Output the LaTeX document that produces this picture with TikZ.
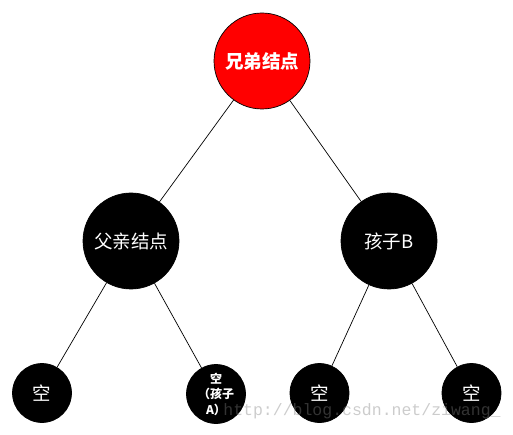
\documentclass[tikz,border=0pt]{standalone}
\usepackage{fontspec}
\newfontfamily\cjk{Noto Sans CJK SC}
\newfontfamily\wmfont{Liberation Mono}
\usepackage{tikz}
\tikzset{
	knot/.style={circle, draw=black, fill=black, text=white, inner sep=0pt, font=\cjk\fontsize{18.5}{20}\selectfont},
	leaf/.style={knot, minimum size=59pt},
	big/.style={knot, minimum size=96pt}
}

\begin{document}
\begin{tikzpicture}[x=1pt, y=-1pt, line width=0.7pt]
			\useasboundingbox (0,0) rectangle (513,435);
			\node[big, fill=red] (r) at (262,61) {\bfseries 兄弟结点};
			\node[big] (f) at (131,241) {父亲结点};
			\node[big] (c) at (389,241) {孩子B};
			\node[leaf] (e1) at (42,393) {空};
			\node[leaf, align=center, font=\cjk\bfseries\fontsize{12}{15.5}\selectfont] (e2) at (216,394) {空\\（孩子\\A）};
			\node[leaf] (e3) at (319.5,393) {空};
			\node[leaf] (e4) at (471.5,393) {空};
			\path[draw]
			(r) edge (f)
				edge (c)
			(f) edge (e1)
				edge (e2)
			(c) edge (e3)
				edge (e4);
			\node[text=gray, opacity=0.4, font=\wmfont\fontsize{16.5}{18}\selectfont, inner sep=0pt] (w) at (362,411) {http://blog.csdn.net/ziwang\_};
		\end{tikzpicture}
\end{document}
